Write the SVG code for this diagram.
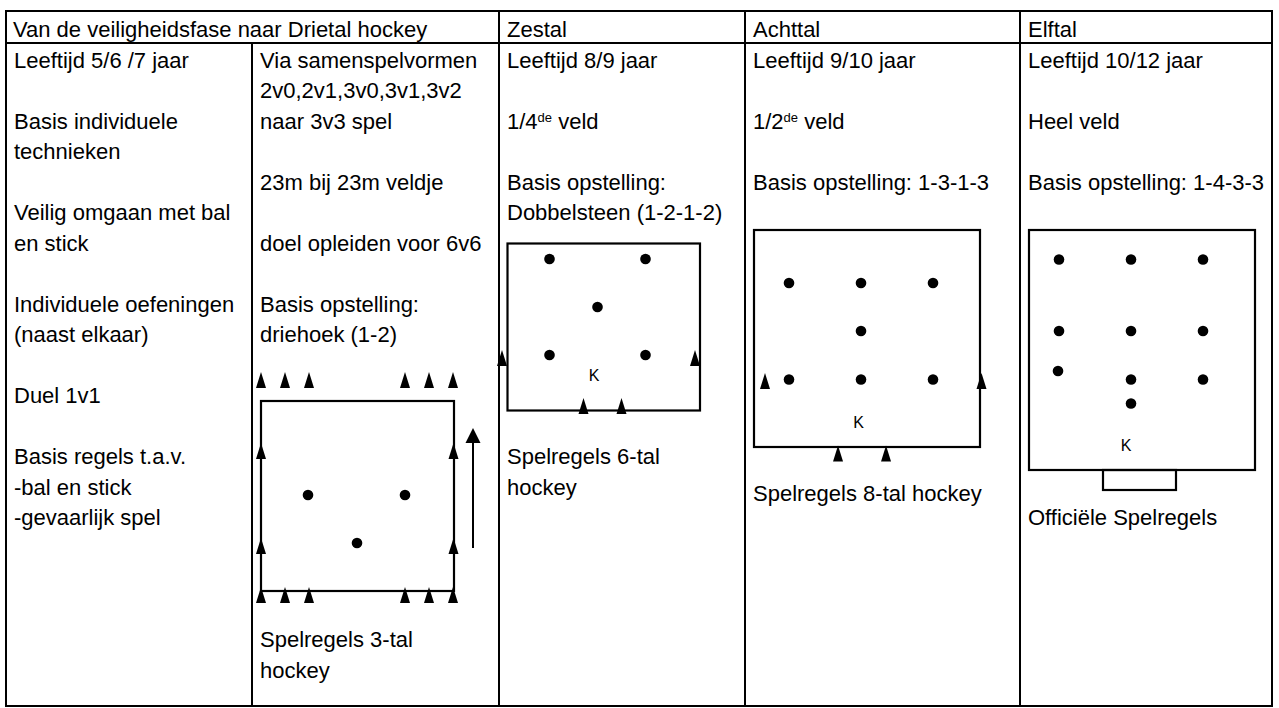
<svg xmlns="http://www.w3.org/2000/svg" xmlns:xlink="http://www.w3.org/1999/xlink" width="1279" height="708" viewBox="0 0 1279 708">
<style>
text{font-family:"Liberation Sans",Arial,sans-serif;font-size:22px;fill:#000}
.k{font-size:16px;text-anchor:middle}
.sup{font-size:13px}
.grid{stroke:#000;stroke-width:2;fill:none}
.field{stroke:#000;stroke-width:2.2;fill:none}
.dot{fill:#000}
</style>
<defs>
<path id="tri" d="M0,-16 L5,0 L-5,0 Z" fill="#000"/>
</defs>
<rect width="1279" height="708" fill="#fff"/>
<g id="table">
<rect class="grid" x="6" y="11" width="1266" height="695"/>
<line class="grid" x1="6" y1="43" x2="1272" y2="43"/>
<line class="grid" x1="252" y1="43" x2="252" y2="706"/>
<line class="grid" x1="499" y1="11" x2="499" y2="706"/>
<line class="grid" x1="745" y1="11" x2="745" y2="706"/>
<line class="grid" x1="1020" y1="11" x2="1020" y2="706"/>
</g>
<g id="headers">
<text x="13" y="36.5">Van de veiligheidsfase naar Drietal hockey</text>
<text x="507" y="36.5">Zestal</text>
<text x="753" y="36.5">Achttal</text>
<text x="1028" y="36.5">Elftal</text>
</g>
<g id="col1">
<text x="14" y="67.5">Leeftijd 5/6 /7 jaar</text>
<text x="14" y="128.5">Basis individuele</text>
<text x="14" y="159">technieken</text>
<text x="14" y="220">Veilig omgaan met bal</text>
<text x="14" y="250.5">en stick</text>
<text x="14" y="311.5">Individuele oefeningen</text>
<text x="14" y="342">(naast elkaar)</text>
<text x="14" y="403">Duel 1v1</text>
<text x="14" y="464">Basis regels t.a.v.</text>
<text x="14" y="494.5">-bal en stick</text>
<text x="14" y="525">-gevaarlijk spel</text>
</g>
<g id="col2">
<text x="260" y="67.5">Via samenspelvormen</text>
<text x="260" y="98">2v0,2v1,3v0,3v1,3v2</text>
<text x="260" y="128.5">naar 3v3 spel</text>
<text x="260" y="189.5">23m bij 23m veldje</text>
<text x="260" y="250.5">doel opleiden voor 6v6</text>
<text x="260" y="311.5">Basis opstelling:</text>
<text x="260" y="342">driehoek (1-2)</text>
<text x="260" y="647">Spelregels 3-tal</text>
<text x="260" y="677.5">hockey</text>
</g>
<g id="field3tal">
<rect class="field" x="261" y="401" width="193" height="190"/>
<use xlink:href="#tri" x="261" y="388"/><use xlink:href="#tri" x="285" y="388"/><use xlink:href="#tri" x="309" y="388"/>
<use xlink:href="#tri" x="405" y="388"/><use xlink:href="#tri" x="429" y="388"/><use xlink:href="#tri" x="453" y="388"/>
<use xlink:href="#tri" x="261" y="603"/><use xlink:href="#tri" x="285" y="603"/><use xlink:href="#tri" x="309" y="603"/>
<use xlink:href="#tri" x="405" y="603"/><use xlink:href="#tri" x="429" y="603"/><use xlink:href="#tri" x="453" y="603"/>
<use xlink:href="#tri" x="261" y="459"/><use xlink:href="#tri" x="261" y="554"/>
<use xlink:href="#tri" x="453.5" y="459"/><use xlink:href="#tri" x="453.5" y="554"/>
<circle class="dot" cx="308" cy="495" r="5.3"/>
<circle class="dot" cx="405" cy="495" r="5.3"/>
<circle class="dot" cx="357" cy="543" r="5.3"/>
</g>
<g id="connectors">
<line x1="473" y1="548" x2="473" y2="440" stroke="#000" stroke-width="2"/>
<path d="M473,428 L480.5,443 L465.5,443 Z" fill="#000"/>
</g>
<g id="col3">
<text x="507" y="67.5">Leeftijd 8/9 jaar</text>
<text x="507" y="128.5">1/4<tspan class="sup" dy="-7">de</tspan><tspan dy="7"> veld</tspan></text>
<text x="507" y="189.5">Basis opstelling:</text>
<text x="507" y="220">Dobbelsteen (1-2-1-2)</text>
<text x="507" y="464">Spelregels 6-tal</text>
<text x="507" y="494.5">hockey</text>
</g>
<g id="field6tal">
<rect class="field" x="507.5" y="243.5" width="192.5" height="167"/>
<circle class="dot" cx="549.5" cy="259" r="5.3"/>
<circle class="dot" cx="645.5" cy="259" r="5.3"/>
<circle class="dot" cx="597.5" cy="307" r="5.3"/>
<circle class="dot" cx="549.5" cy="355" r="5.3"/>
<circle class="dot" cx="645.5" cy="355" r="5.3"/>
<text class="k" x="594" y="381">K</text>
<use xlink:href="#tri" x="502" y="366"/>
<use xlink:href="#tri" x="695" y="366"/>
<use xlink:href="#tri" x="583.5" y="414"/>
<use xlink:href="#tri" x="621.5" y="414"/>
</g>
<g id="col4">
<text x="753" y="67.5">Leeftijd 9/10 jaar</text>
<text x="753" y="128.5">1/2<tspan class="sup" dy="-7">de</tspan><tspan dy="7"> veld</tspan></text>
<text x="753" y="189.5">Basis opstelling: 1-3-1-3</text>
<text x="753" y="501">Spelregels 8-tal hockey</text>
</g>
<g id="field8tal">
<rect class="field" x="754" y="230" width="226" height="217"/>
<circle class="dot" cx="789" cy="283" r="5.3"/>
<circle class="dot" cx="861" cy="283" r="5.3"/>
<circle class="dot" cx="933" cy="283" r="5.3"/>
<circle class="dot" cx="861" cy="331" r="5.3"/>
<circle class="dot" cx="789" cy="379.5" r="5.3"/>
<circle class="dot" cx="861" cy="379.5" r="5.3"/>
<circle class="dot" cx="933" cy="379.5" r="5.3"/>
<text class="k" x="858.5" y="427.5">K</text>
<use xlink:href="#tri" x="765" y="389"/>
<use xlink:href="#tri" x="981.5" y="389"/>
<use xlink:href="#tri" x="838" y="461.5"/>
<use xlink:href="#tri" x="886" y="461.5"/>
</g>
<g id="col5">
<text x="1028" y="67.5">Leeftijd 10/12 jaar</text>
<text x="1028" y="128.5">Heel veld</text>
<text x="1028" y="189.5">Basis opstelling: 1-4-3-3</text>
<text x="1028" y="525">Officiële Spelregels</text>
</g>
<g id="field11tal">
<rect class="field" x="1029" y="230" width="226" height="240"/>
<rect class="field" x="1103" y="470" width="73" height="20"/>
<circle class="dot" cx="1059" cy="259.5" r="5.3"/>
<circle class="dot" cx="1131" cy="259.5" r="5.3"/>
<circle class="dot" cx="1203" cy="259.5" r="5.3"/>
<circle class="dot" cx="1059" cy="331" r="5.3"/>
<circle class="dot" cx="1131" cy="331" r="5.3"/>
<circle class="dot" cx="1203" cy="331" r="5.3"/>
<circle class="dot" cx="1058" cy="371" r="5.3"/>
<circle class="dot" cx="1131" cy="379.5" r="5.3"/>
<circle class="dot" cx="1203" cy="379.5" r="5.3"/>
<circle class="dot" cx="1131" cy="403.5" r="5.3"/>
<text class="k" x="1126" y="451">K</text>
</g>
</svg>
